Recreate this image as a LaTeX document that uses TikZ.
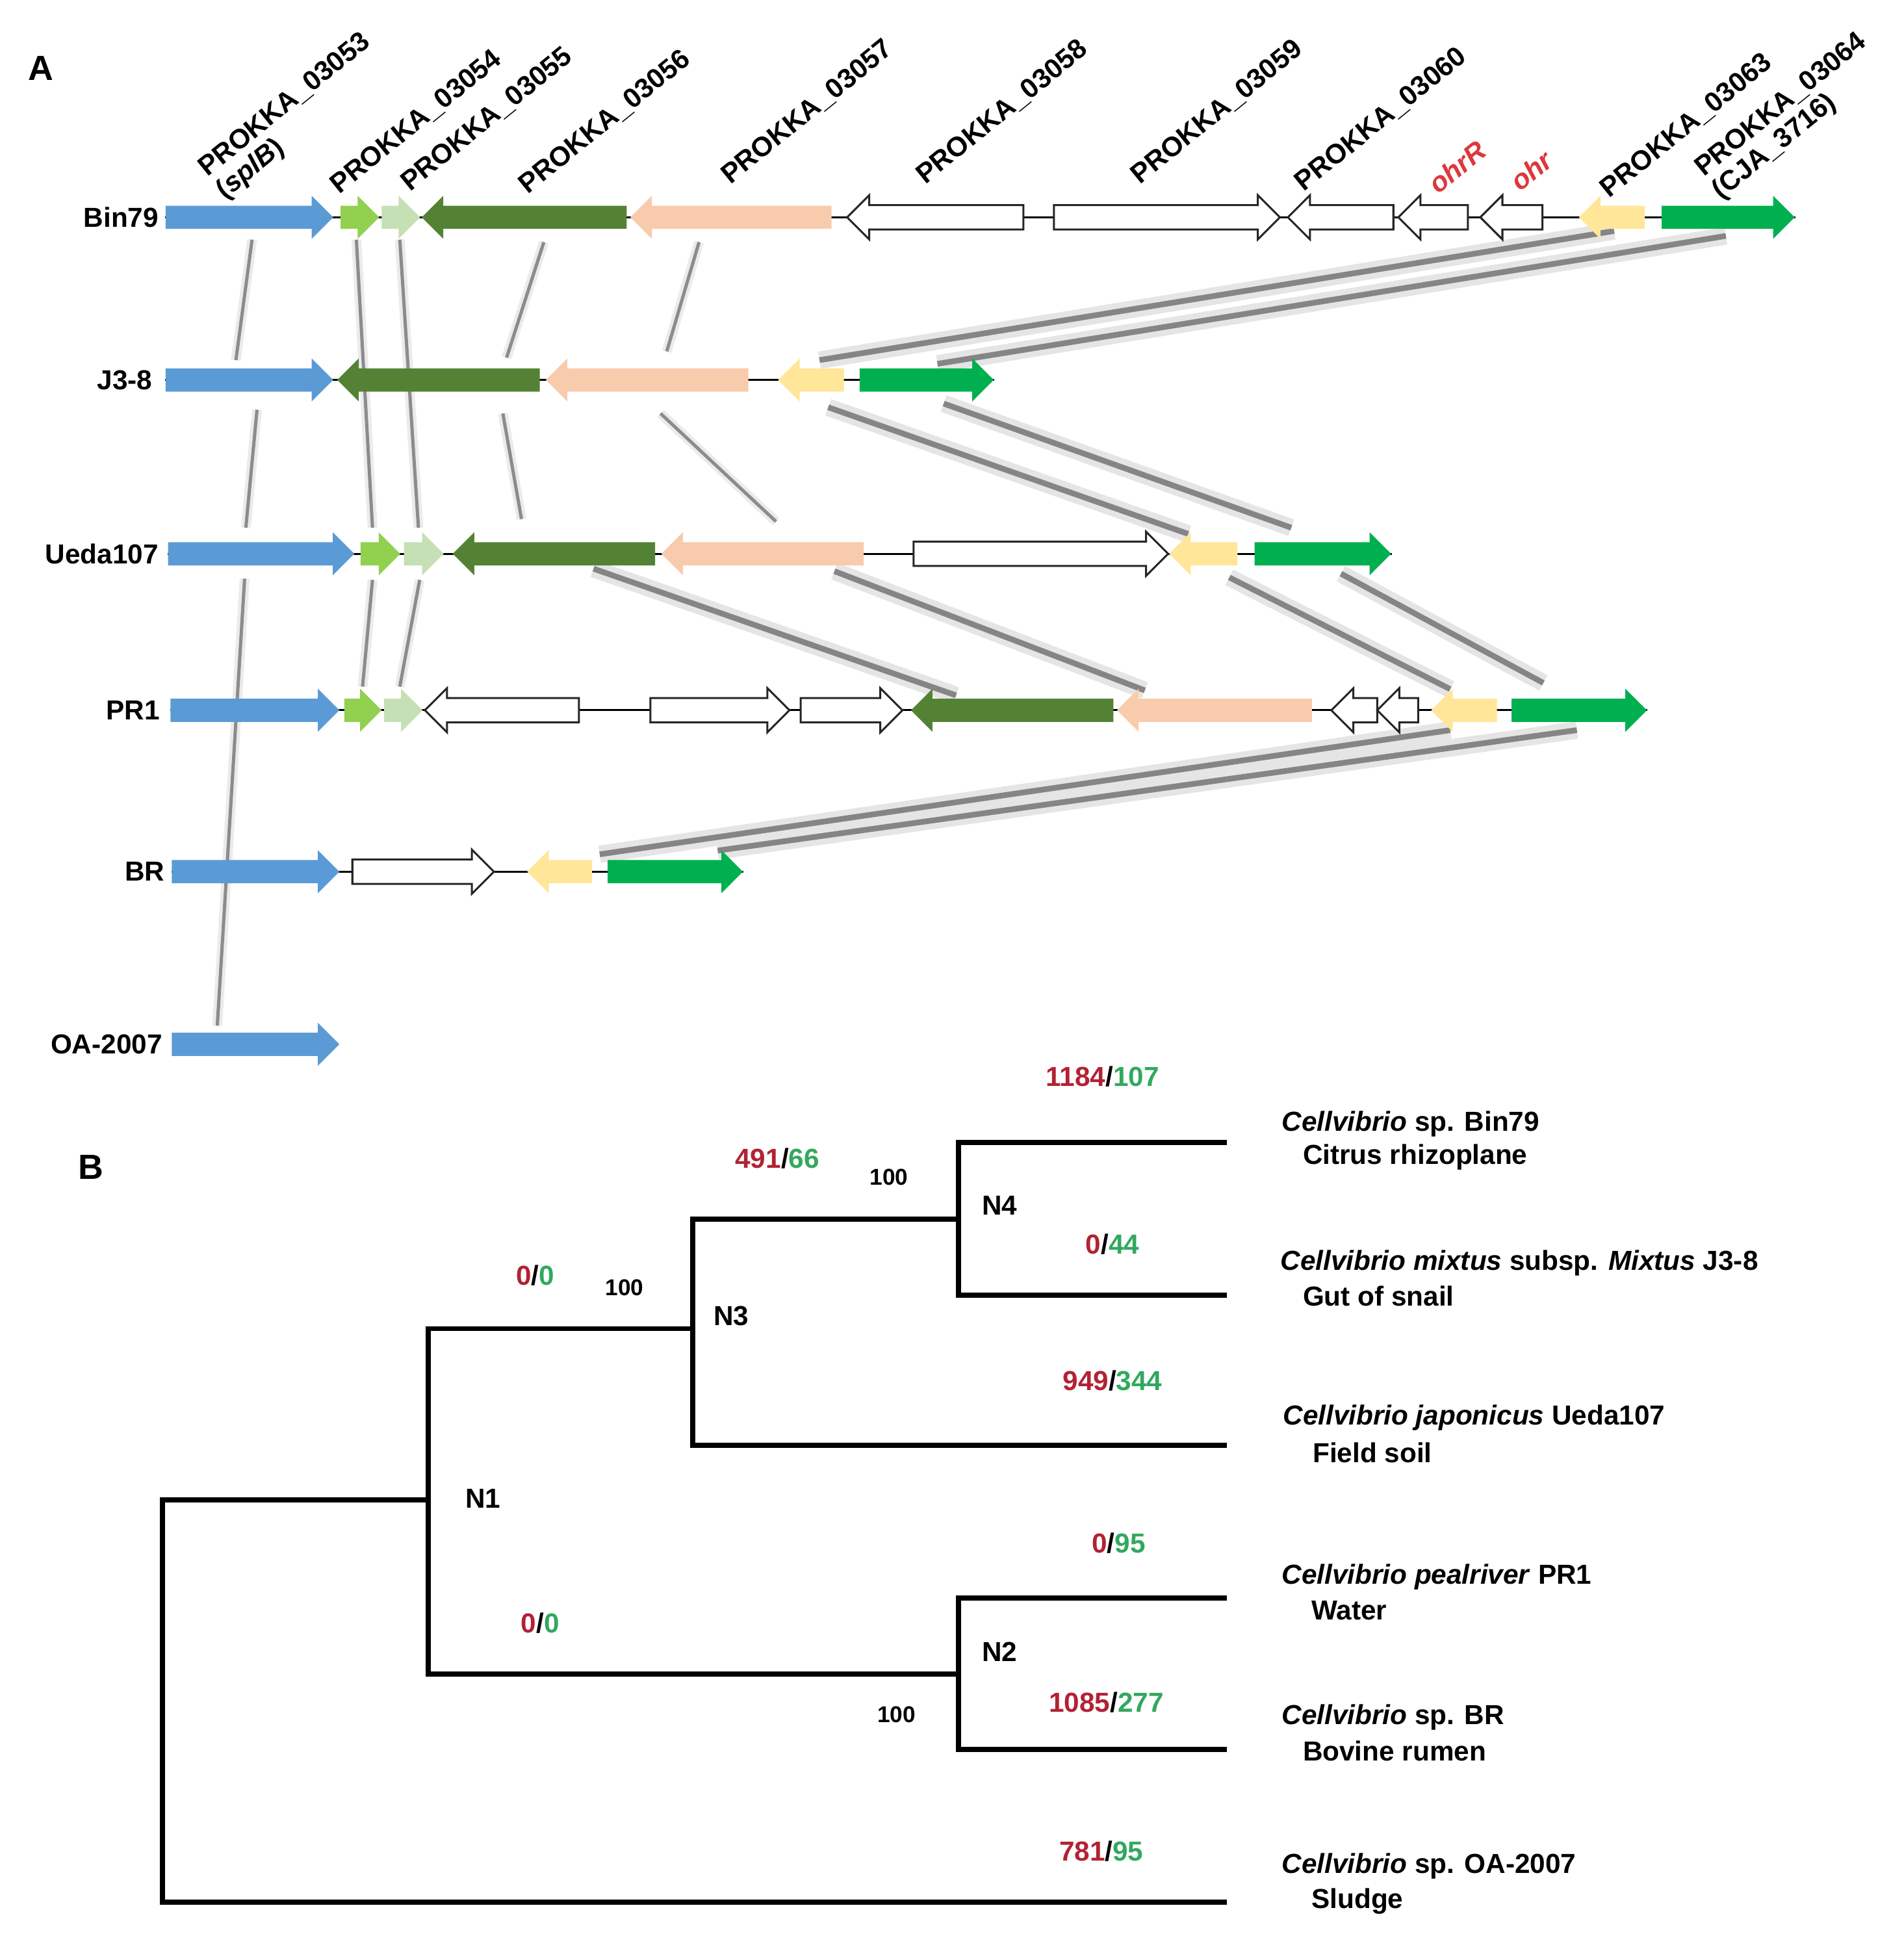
\documentclass[tikz,border=0pt]{standalone}
\usepackage{fontspec}
\setmainfont{Liberation Sans}
\usetikzlibrary{shapes.arrows, calc}

\pgfdeclarelayer{background}
\pgfsetlayers{background,main}

% gene colours
\definecolor{splblue}{RGB}{91,155,213}
\definecolor{limegreen}{RGB}{146,208,80}
\definecolor{palegreen}{RGB}{197,224,180}
\definecolor{olivegreen}{RGB}{84,130,53}
\definecolor{peach}{RGB}{248,203,173}
\definecolor{straw}{RGB}{255,230,153}
\definecolor{cjagreen}{RGB}{0,176,80}
% text colours
\definecolor{lossred}{RGB}{178,34,52}
\definecolor{gaingreen}{RGB}{50,168,95}
\definecolor{ohrred}{RGB}{222,55,60}

\newcommand{\gu}{0.02cm} % one grid unit
\newcommand{\lossgain}[2]{\textcolor{lossred}{#1}/\textcolor{gaingreen}{#2}}

\begin{document}
\begin{tikzpicture}[
    x=0.02cm, y=-0.02cm,
    font=\bfseries\fontsize{12.6}{15}\selectfont,
    % Styles
    gene/.style={ % gene arrow, placed at its tail
        single arrow,
        single arrow head extend=0.16cm,
        minimum width=0.68cm,
        inner xsep=0pt,
        inner ysep=0.18cm,
        anchor=tail
    },
    rev/.style={ % gene on the minus strand
        shape border rotate=180
    },
    blank/.style={ % unannotated gene
        fill=white,
        draw=black!85,
        line width=0.9pt
    },
    spine/.style={ % contig backbone
        draw=black,
        line width=0.9pt
    },
    link/.style={ % homology link
        draw=black!45,
        line width=1.5pt,
        preaction={draw=black!8, line width=4.5pt}
    },
    shlink/.style={ % homology link with shadow
        draw=black!48,
        line width=2.6pt,
        preaction={draw=black!10, line width=8pt}
    },
    glab/.style={ % gene name
        rotate=39,
        anchor=base west,
        inner sep=0pt
    },
    rowlab/.style={ % strain name
        anchor=east,
        inner sep=0pt
    },
    panel/.style={ % panel letter
        font=\bfseries\fontsize{16}{18}\selectfont
    },
    branch/.style={ % tree branch
        draw=black,
        line width=2.3pt
    },
    nlab/.style={ % node label
        inner sep=0pt
    },
    boot/.style={ % bootstrap value
        font=\bfseries\fontsize{10.5}{12}\selectfont,
        inner sep=0pt
    },
    cnt/.style={ % loss/gain counts
        inner sep=0pt
    },
    leaf/.style={ % leaf name
        anchor=west,
        inner sep=0pt
    }
]
    \useasboundingbox (0,0) rectangle (1533,1568);

    % Panel A
    \node[panel] (pa) at (33,55) {A};

    % Strain names
    \node[rowlab] (r-bin) at (128,175) {Bin79};
    \node[rowlab] (r-j38) at (123,306) {J3-8};
    \node[rowlab] (r-ueda) at (128,446) {Ueda107};
    \node[rowlab] (r-pr1) at (129,572) {PR1};
    \node[rowlab] (r-br) at (133,702) {BR};
    \node[rowlab] (r-oa) at (131,841) {OA-2007};

    % Bin79
    \node[gene, fill=splblue, minimum height=135*\gu] (b-spl) at (133,175) {};
    \node[gene, fill=limegreen, minimum height=31*\gu] (b-54) at (274,175) {};
    \node[gene, fill=palegreen, minimum height=31*\gu] (b-55) at (307,175) {};
    \node[gene, rev, fill=olivegreen, minimum height=165*\gu] (b-56) at (505,175) {};
    \node[gene, rev, fill=peach, minimum height=162*\gu] (b-57) at (670,175) {};
    \node[gene, rev, blank, minimum height=142*\gu] (b-58) at (825,175) {};
    \node[gene, blank, minimum height=182*\gu] (b-59) at (848,175) {};
    \node[gene, rev, blank, minimum height=85*\gu] (b-60) at (1123,175) {};
    \node[gene, rev, blank, minimum height=56*\gu] (b-ohrR) at (1183,175) {};
    \node[gene, rev, blank, minimum height=50*\gu] (b-ohr) at (1243,175) {};
    \node[gene, rev, fill=straw, minimum height=53*\gu] (b-63) at (1325,175) {};
    \node[gene, fill=cjagreen, minimum height=107*\gu] (b-64) at (1338,175) {};

    % J3-8
    \node[gene, fill=splblue, minimum height=135*\gu] (j-spl) at (133,306) {};
    \node[gene, rev, fill=olivegreen, minimum height=163*\gu] (j-56) at (435,306) {};
    \node[gene, rev, fill=peach, minimum height=163*\gu] (j-57) at (603,306) {};
    \node[gene, rev, fill=straw, minimum height=53*\gu] (j-63) at (680,306) {};
    \node[gene, fill=cjagreen, minimum height=108*\gu] (j-64) at (692,306) {};

    % Ueda107
    \node[gene, fill=splblue, minimum height=150*\gu] (u-spl) at (135,446) {};
    \node[gene, fill=limegreen, minimum height=32*\gu] (u-54) at (290,446) {};
    \node[gene, fill=palegreen, minimum height=32*\gu] (u-55) at (325,446) {};
    \node[gene, rev, fill=olivegreen, minimum height=163*\gu] (u-56) at (528,446) {};
    \node[gene, rev, fill=peach, minimum height=163*\gu] (u-57) at (696,446) {};
    \node[gene, blank, minimum height=205*\gu] (u-x1) at (735,446) {};
    \node[gene, rev, fill=straw, minimum height=55*\gu] (u-63) at (997,446) {};
    \node[gene, fill=cjagreen, minimum height=110*\gu] (u-64) at (1010,446) {};

    % PR1
    \node[gene, fill=splblue, minimum height=136*\gu] (p-spl) at (137,572) {};
    \node[gene, fill=limegreen, minimum height=30*\gu] (p-54) at (277,572) {};
    \node[gene, fill=palegreen, minimum height=31*\gu] (p-55) at (309,572) {};
    \node[gene, rev, blank, minimum height=124*\gu] (p-x1) at (467,572) {};
    \node[gene, blank, minimum height=112*\gu] (p-x2) at (523,572) {};
    \node[gene, blank, minimum height=82*\gu] (p-x3) at (644,572) {};
    \node[gene, rev, fill=olivegreen, minimum height=163*\gu] (p-56) at (897,572) {};
    \node[gene, rev, fill=peach, minimum height=157*\gu] (p-57) at (1057,572) {};
    \node[gene, rev, blank, minimum height=37*\gu] (p-x4) at (1110,572) {};
    \node[gene, rev, blank, minimum height=33*\gu] (p-x5) at (1143,572) {};
    \node[gene, rev, fill=straw, minimum height=53*\gu] (p-63) at (1206,572) {};
    \node[gene, fill=cjagreen, minimum height=109*\gu] (p-64) at (1217,572) {};

    % BR
    \node[gene, fill=splblue, minimum height=135*\gu] (r-spl) at (138,702) {};
    \node[gene, blank, minimum height=114*\gu] (r-x1) at (283,702) {};
    \node[gene, rev, fill=straw, minimum height=52*\gu] (r-63) at (477,702) {};
    \node[gene, fill=cjagreen, minimum height=109*\gu] (r-64) at (489,702) {};

    % OA-2007
    \node[gene, fill=splblue, minimum height=135*\gu] (o-spl) at (138,841) {};

    \begin{pgfonlayer}{background}
    % Homology links, Bin79 -> J3-8
    \draw[link] ($(b-spl.tail)+(70,18)$) -- ($(j-spl.tail)+(57,-16)$);
    \draw[link] ($(b-54.tail)+(13,18)$) -- ($(u-54.tail)+(10,-21)$);
    \draw[link] ($(b-55.tail)+(15,18)$) -- ($(u-55.tail)+(12,-21)$);
    \draw[link] ($(b-56.tail)+(-67,20)$) -- ($(j-56.tail)+(-27,-18)$);
    \draw[link] ($(b-57.tail)+(-107,20)$) -- ($(j-57.tail)+(-66,-23)$);
    \draw[shlink] ($(b-63.tail)+(-25,11)$) -- ($(j-63.tail)+(-20,-16)$);
    \draw[shlink] ($(b-64.tail)+(52,15)$) -- ($(j-64.tail)+(63,-13)$);

    % J3-8 -> Ueda107
    \draw[link] ($(j-spl.tail)+(74,24)$) -- ($(u-spl.tail)+(63,-21)$);
    \draw[link] ($(j-56.tail)+(-30,27)$) -- ($(u-56.tail)+(-108,-28)$);
    \draw[link] ($(j-57.tail)+(-71,27)$) -- ($(u-57.tail)+(-71,-26)$);
    \draw[shlink] ($(j-63.tail)+(-13,22)$) -- ($(u-63.tail)+(-40,-16)$);
    \draw[shlink] ($(j-64.tail)+(68,19)$) -- ($(u-64.tail)+(30,-21)$);

    % Ueda107 -> PR1 (and OA-2007)
    \draw[link] ($(u-spl.tail)+(62,20)$) -- ($(o-spl.tail)+(37,-15)$);
    \draw[link] ($(u-54.tail)+(10,21)$) -- ($(p-54.tail)+(15,-19)$);
    \draw[link] ($(u-55.tail)+(13,21)$) -- ($(p-55.tail)+(13,-19)$);
    \draw[shlink] ($(u-56.tail)+(-50,12)$) -- ($(p-56.tail)+(-127,-12)$);
    \draw[shlink] ($(u-57.tail)+(-24,14)$) -- ($(p-57.tail)+(-135,-16)$);
    \draw[shlink] ($(u-63.tail)+(-7,19)$) -- ($(p-63.tail)+(-38,-17)$);
    \draw[shlink] ($(u-64.tail)+(70,16)$) -- ($(p-64.tail)+(26,-22)$);

    % PR1 -> BR
    \draw[shlink] ($(p-63.tail)+(-38,16)$) -- ($(r-63.tail)+(6,-14)$);
    \draw[shlink] ($(p-64.tail)+(53,16)$) -- ($(r-64.tail)+(89,-17)$);

    % Backbones
    \draw[spine] (b-spl.tail) -- (b-64.tip);
    \draw[spine] (j-spl.tail) -- (j-64.tip);
    \draw[spine] (u-spl.tail) -- (u-64.tip);
    \draw[spine] (p-spl.tail) -- (p-64.tip);
    \draw[spine] (r-spl.tail) -- (r-64.tip);
    \end{pgfonlayer}

    % Gene names
    \node[glab] (l-53) at (167,143) {PROKKA\_03053};
    \node[glab] (l-53b) at ($(l-53.base west)+(14,18)$) {(\textit{splB})};
    \node[glab] (l-54) at (273,157) {PROKKA\_03054};
    \node[glab] (l-55) at (330,155) {PROKKA\_03055};
    \node[glab] (l-56) at (425,157) {PROKKA\_03056};
    \node[glab] (l-57) at (588,149) {PROKKA\_03057};
    \node[glab] (l-58) at (745,149) {PROKKA\_03058};
    \node[glab] (l-59) at (918,149) {PROKKA\_03059};
    \node[glab] (l-60) at (1050,155) {PROKKA\_03060};
    \node[glab, text=ohrred] (l-ohrR) at (1158,157) {\textit{ohrR}};
    \node[glab, text=ohrred] (l-ohr) at (1224,155) {\textit{ohr}};
    \node[glab] (l-63) at (1296,160) {PROKKA\_03063};
    \node[glab] (l-64) at (1372,143) {PROKKA\_03064};
    \node[glab] (l-64b) at ($(l-64.base west)+(14,18)$) {(CJA\_3716)};

    % Panel B
    \node[panel] (pb) at (73,940) {B};

    % Tree nodes and tips
    \coordinate (root) at (131,1370);
    \coordinate (n1) at (345,1208);
    \coordinate (n2) at (772,1348);
    \coordinate (n3) at (558,1070);
    \coordinate (n4) at (772,982);
    \coordinate (tip-bin) at (988,920);
    \coordinate (tip-j38) at (988,1043);
    \coordinate (tip-ueda) at (988,1164);
    \coordinate (tip-pr1) at (988,1287);
    \coordinate (tip-br) at (988,1409);
    \coordinate (tip-oa) at (988,1532);

    % Branches
    \draw[branch] (root) |- (n1);
    \draw[branch] (root) |- (tip-oa);
    \draw[branch] (n1) |- (n3);
    \draw[branch] (n1) |- (n2);
    \draw[branch] (n3) |- (n4);
    \draw[branch] (n3) |- (tip-ueda);
    \draw[branch] (n4) |- (tip-bin);
    \draw[branch] (n4) |- (tip-j38);
    \draw[branch] (n2) |- (tip-pr1);
    \draw[branch] (n2) |- (tip-br);

    % Node labels and bootstrap values
    \node[nlab] (lab-n1) at (389,1207) {N1};
    \node[nlab] (lab-n2) at (805,1330) {N2};
    \node[nlab] (lab-n3) at (589,1060) {N3};
    \node[nlab] (lab-n4) at (805,971) {N4};
    \node[boot] (bs-n4) at (716,948) {100};
    \node[boot] (bs-n3) at (503,1037) {100};
    \node[boot] (bs-n2) at (722,1381) {100};

    % Losses / gains
    \node[cnt] (c-bin) at (888,867) {\lossgain{1184}{107}};
    \node[cnt] (c-n4) at (626,933) {\lossgain{491}{66}};
    \node[cnt] (c-j38) at (896,1002) {\lossgain{0}{44}};
    \node[cnt] (c-n3) at (431,1027) {\lossgain{0}{0}};
    \node[cnt] (c-ueda) at (896,1112) {\lossgain{949}{344}};
    \node[cnt] (c-pr1) at (901,1243) {\lossgain{0}{95}};
    \node[cnt] (c-n2) at (435,1307) {\lossgain{0}{0}};
    \node[cnt] (c-br) at (891,1371) {\lossgain{1085}{277}};
    \node[cnt] (c-oa) at (887,1491) {\lossgain{781}{95}};

    % Strains and habitats
    \node[leaf] (s-bin) at (1032,905) {\textit{Cellvibrio} sp. Bin79};
    \node[leaf] (h-bin) at (1049,932) {Citrus rhizoplane};
    \node[leaf] (s-j38) at (1031,1017) {\textit{Cellvibrio mixtus} subsp. \textit{Mixtus} J3-8};
    \node[leaf] (h-j38) at (1049,1044) {Gut of snail};
    \node[leaf] (s-ueda) at (1033,1142) {\textit{Cellvibrio japonicus} Ueda107};
    \node[leaf] (h-ueda) at (1057,1170) {Field soil};
    \node[leaf] (s-pr1) at (1032,1270) {\textit{Cellvibrio pealriver} PR1};
    \node[leaf] (h-pr1) at (1056,1297) {Water};
    \node[leaf] (s-br) at (1032,1383) {\textit{Cellvibrio} sp. BR};
    \node[leaf] (h-br) at (1049,1410) {Bovine rumen};
    \node[leaf] (s-oa) at (1032,1503) {\textit{Cellvibrio} sp. OA-2007};
    \node[leaf] (h-oa) at (1056,1531) {Sludge};
\end{tikzpicture}
\end{document}
